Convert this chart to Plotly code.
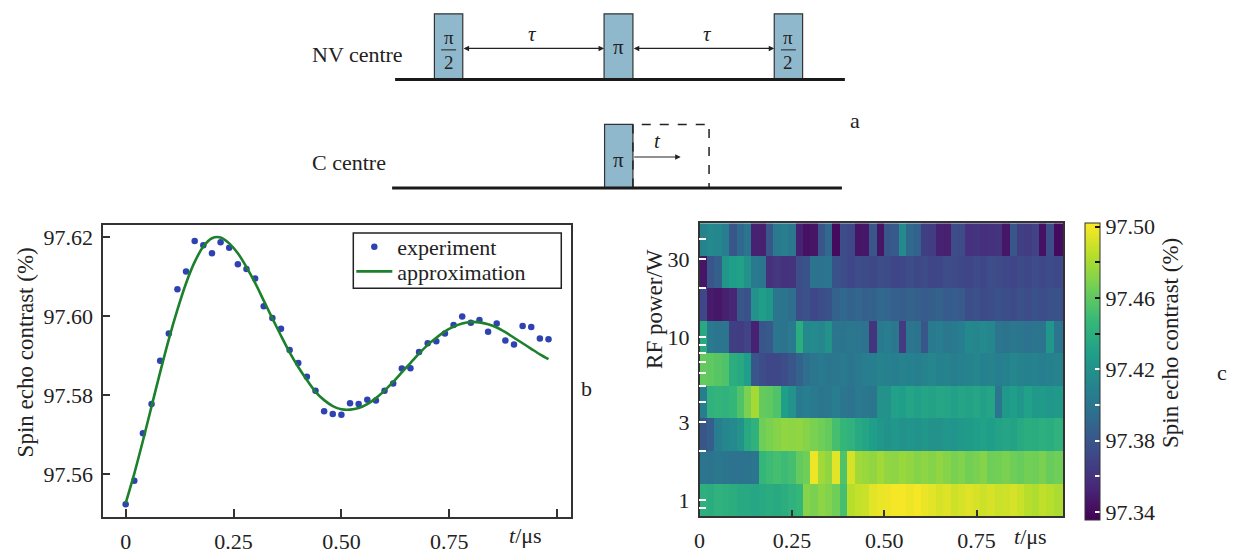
import numpy as np
import plotly.graph_objects as go

W, H = 1233, 554
SERIF = "Liberation Serif"

# ---------------- data: panel b ----------------
t_us = [0.00, 0.02, 0.04, 0.06, 0.08, 0.10, 0.12, 0.14, 0.16, 0.18,
        0.20, 0.22, 0.24, 0.26, 0.28, 0.30, 0.32, 0.34, 0.36, 0.38,
        0.40, 0.42, 0.44, 0.46, 0.48, 0.50, 0.52, 0.54, 0.56, 0.58,
        0.60, 0.62, 0.64, 0.66, 0.68, 0.70, 0.72, 0.74, 0.76, 0.78,
        0.80, 0.82, 0.84, 0.86, 0.88, 0.90, 0.92, 0.94, 0.96, 0.98]

contrast_experiment = [
    97.5524, 97.5584, 97.5704, 97.5778, 97.5888, 97.5957, 97.6069, 97.6114, 97.6191, 97.6180,
    97.6160, 97.6188, 97.6174, 97.6132, 97.6120, 97.6096, 97.6026, 97.5996, 97.5969, 97.5915,
    97.5882, 97.5847, 97.5812, 97.5760, 97.5753, 97.5751, 97.5780, 97.5778, 97.5789, 97.5787,
    97.5812, 97.5830, 97.5868, 97.5869, 97.5910, 97.5932, 97.5937, 97.5957, 97.5978, 97.6000,
    97.5984, 97.5991, 97.5961, 97.5982, 97.5939, 97.5929, 97.5976, 97.5973, 97.5944, 97.5942]

contrast_approximation = [
    97.5527, 97.5602, 97.5685, 97.5772, 97.5859, 97.5942, 97.6017, 97.6084, 97.6138, 97.6177,
    97.6198, 97.6200, 97.6185, 97.6160, 97.6125, 97.6085, 97.6040, 97.5995, 97.5951, 97.5909,
    97.5872, 97.5839, 97.5809, 97.5788, 97.5773, 97.5765, 97.5764, 97.5768, 97.5778, 97.5793,
    97.5812, 97.5834, 97.5858, 97.5882, 97.5906, 97.5928, 97.5946, 97.5962, 97.5974, 97.5982,
    97.5986, 97.5985, 97.5980, 97.5972, 97.5960, 97.5946, 97.5932, 97.5918, 97.5904, 97.5892]

b_xtick_vals = [0, 0.25, 0.5, 0.75, 1.0]
b_xtick_text = ["0", "0.25", "0.50", "0.75", ""]
b_ytick_vals = [97.56, 97.58, 97.60, 97.62]
b_ytick_text = ["97.56", "97.58", "97.60", "97.62"]

# ---------------- data: panel c ----------------
rf_power_W = [1.0, 1.58, 2.51, 3.98, 6.31, 10.0, 15.8, 25.1, 39.8]

map_1W = [97.441, 97.439, 97.442, 97.441, 97.439, 97.436, 97.436, 97.434, 97.436, 97.438,
          97.436, 97.439, 97.442, 97.446, 97.471, 97.468, 97.473, 97.470, 97.465, 97.452,
          97.484, 97.487, 97.489, 97.495, 97.497, 97.498, 97.500, 97.500, 97.498, 97.500,
          97.497, 97.495, 97.492, 97.494, 97.490, 97.492, 97.494, 97.492, 97.490, 97.492,
          97.489, 97.490, 97.492, 97.489, 97.484, 97.482, 97.486, 97.484, 97.481, 97.482]
map_1_58W = [97.401, 97.399, 97.402, 97.401, 97.398, 97.398, 97.399, 97.401, 97.446, 97.449,
             97.452, 97.449, 97.452, 97.462, 97.465, 97.498, 97.478, 97.474, 97.495, 97.455,
             97.492, 97.478, 97.476, 97.474, 97.478, 97.474, 97.473, 97.476, 97.474, 97.471,
             97.473, 97.471, 97.474, 97.471, 97.468, 97.470, 97.466, 97.468, 97.471, 97.465,
             97.466, 97.468, 97.465, 97.463, 97.466, 97.465, 97.468, 97.463, 97.465, 97.466]
map_2_51W = [97.380, 97.385, 97.407, 97.412, 97.415, 97.420, 97.436, 97.442, 97.465, 97.468,
             97.471, 97.474, 97.473, 97.474, 97.471, 97.468, 97.465, 97.462, 97.452, 97.446,
             97.442, 97.436, 97.433, 97.428, 97.423, 97.420, 97.423, 97.420, 97.422, 97.420,
             97.423, 97.420, 97.420, 97.423, 97.422, 97.425, 97.426, 97.428, 97.430, 97.428,
             97.431, 97.433, 97.431, 97.436, 97.439, 97.438, 97.441, 97.439, 97.442, 97.441]
map_3_98W = [97.407, 97.442, 97.444, 97.442, 97.446, 97.455, 97.468, 97.479, 97.462, 97.460,
             97.455, 97.428, 97.420, 97.404, 97.407, 97.404, 97.401, 97.402, 97.406, 97.401,
             97.398, 97.404, 97.402, 97.401, 97.420, 97.420, 97.430, 97.428, 97.433, 97.430,
             97.433, 97.431, 97.434, 97.433, 97.430, 97.433, 97.431, 97.434, 97.430, 97.433,
             97.401, 97.425, 97.428, 97.423, 97.430, 97.425, 97.426, 97.423, 97.425, 97.426]
map_6_31W = [97.462, 97.460, 97.458, 97.455, 97.439, 97.436, 97.428, 97.380, 97.375, 97.372,
             97.372, 97.375, 97.380, 97.388, 97.396, 97.401, 97.404, 97.401, 97.402, 97.404,
             97.401, 97.404, 97.406, 97.407, 97.410, 97.409, 97.407, 97.410, 97.409, 97.407,
             97.410, 97.412, 97.409, 97.410, 97.407, 97.409, 97.410, 97.412, 97.409, 97.410,
             97.407, 97.409, 97.412, 97.410, 97.409, 97.410, 97.407, 97.409, 97.410, 97.409]
map_10W = [97.436, 97.404, 97.401, 97.401, 97.367, 97.366, 97.369, 97.351, 97.380, 97.382,
           97.401, 97.399, 97.404, 97.439, 97.414, 97.415, 97.412, 97.420, 97.401, 97.399,
           97.402, 97.401, 97.398, 97.361, 97.404, 97.406, 97.402, 97.364, 97.401, 97.399,
           97.380, 97.404, 97.406, 97.402, 97.404, 97.407, 97.414, 97.412, 97.415, 97.412,
           97.401, 97.399, 97.402, 97.401, 97.398, 97.401, 97.399, 97.423, 97.401, 97.399]
map_15_8W = [97.372, 97.348, 97.346, 97.350, 97.353, 97.380, 97.378, 97.420, 97.428, 97.423,
             97.401, 97.399, 97.396, 97.375, 97.377, 97.372, 97.375, 97.378, 97.388, 97.391,
             97.388, 97.390, 97.386, 97.388, 97.391, 97.390, 97.386, 97.385, 97.388, 97.386,
             97.383, 97.385, 97.388, 97.383, 97.385, 97.382, 97.375, 97.377, 97.374, 97.375,
             97.378, 97.375, 97.374, 97.377, 97.375, 97.378, 97.375, 97.377, 97.378, 97.375]
map_25_1W = [97.345, 97.380, 97.385, 97.423, 97.428, 97.430, 97.420, 97.404, 97.401, 97.359,
             97.362, 97.359, 97.361, 97.375, 97.378, 97.399, 97.398, 97.401, 97.378, 97.375,
             97.372, 97.375, 97.374, 97.372, 97.375, 97.374, 97.370, 97.372, 97.375, 97.372,
             97.374, 97.370, 97.372, 97.375, 97.374, 97.372, 97.370, 97.374, 97.372, 97.375,
             97.374, 97.372, 97.370, 97.374, 97.372, 97.375, 97.372, 97.374, 97.372, 97.374]
map_39_8W = [97.410, 97.414, 97.412, 97.407, 97.380, 97.391, 97.401, 97.351, 97.350, 97.380,
             97.404, 97.406, 97.402, 97.351, 97.343, 97.345, 97.380, 97.391, 97.340, 97.375,
             97.372, 97.345, 97.346, 97.380, 97.345, 97.380, 97.382, 97.415, 97.391, 97.388,
             97.367, 97.366, 97.351, 97.350, 97.375, 97.374, 97.359, 97.361, 97.358, 97.359,
             97.361, 97.346, 97.380, 97.367, 97.366, 97.369, 97.343, 97.375, 97.340, 97.342]

c_ytick_power = [0.9, 1, 2, 3, 4, 5, 6, 7, 8, 9, 10, 20, 30, 40]
c_ytick_text = ["", "1", "", "3", "", "", "", "", "", "", "10", "", "30", ""]
c_xtick_vals = [0, 0.25, 0.5, 0.75]
c_xtick_text = ["0", "0.25", "0.50", "0.75"]
cbar_tick_vals = [97.34, 97.36, 97.38, 97.40, 97.42, 97.44, 97.46, 97.48, 97.50]
cbar_tick_text = ["97.34", "", "97.38", "", "97.42", "", "97.46", "", "97.50"]
cbar_dark_ticks = [97.44, 97.46, 97.48, 97.50]
z_min, z_max = 97.3355, 97.502

z_map = [map_1W, map_1_58W, map_2_51W, map_3_98W, map_6_31W,
         map_10W, map_15_8W, map_25_1W, map_39_8W]
log_power = np.log10(rf_power_W)
t_edges = list(t_us) + [t_us[-1] + (t_us[1] - t_us[0])]

TICK_SIZE = 22
TITLE_SIZE = 23


def px(x):
    return x / W


def py(y):
    return 1 - y / H


fig = go.Figure()

# ---------------- panel b ----------------
fig.add_trace(go.Scatter(
    x=t_us, y=contrast_experiment, mode="markers", name="experiment",
    marker=dict(color="rgb(46,66,178)", size=6.5),
    xaxis="x", yaxis="y", legend="legend"))
fig.add_trace(go.Scatter(
    x=t_us, y=contrast_approximation, mode="lines", name="approximation",
    line=dict(color="rgb(28,128,44)", width=2.6, shape="spline", smoothing=0.8),
    xaxis="x", yaxis="y", legend="legend2"))

# ---------------- panel c ----------------
fig.add_trace(go.Heatmap(
    x=t_edges, y=log_power, z=z_map, colorscale="Viridis",
    zmin=z_min, zmax=z_max, xaxis="x2", yaxis="y2", showlegend=False,
    colorbar=dict(
        x=px(1084), xanchor="left", xpad=0, y=py(226), yanchor="top", ypad=0,
        len=297, lenmode="pixels", thickness=15, thicknessmode="pixels",
        outlinewidth=1, outlinecolor="#333",
        ticks="inside", ticklen=5, tickwidth=1.5, tickcolor="white",
        tickmode="array", tickvals=cbar_tick_vals, ticktext=cbar_tick_text,
        tickfont=dict(family=SERIF, size=TICK_SIZE, color="#222"))))
fig.add_trace(go.Heatmap(
    x=t_edges, y=log_power, z=z_map,
    colorscale=[[0, "rgba(0,0,0,0)"], [1, "rgba(0,0,0,0)"]],
    zmin=z_min, zmax=z_max, xaxis="x2", yaxis="y2", showlegend=False,
    hoverinfo="skip",
    colorbar=dict(
        x=px(1084), xanchor="left", xpad=0, y=py(226), yanchor="top", ypad=0,
        len=297, lenmode="pixels", thickness=15, thicknessmode="pixels",
        outlinewidth=0, bgcolor="rgba(0,0,0,0)",
        ticks="inside", ticklen=5, tickwidth=1.5, tickcolor="#111",
        tickmode="array", tickvals=cbar_dark_ticks,
        ticktext=["" for _ in cbar_dark_ticks],
        tickfont=dict(family=SERIF, size=TICK_SIZE, color="rgba(0,0,0,0)"))))

axis_font = dict(family=SERIF, size=TICK_SIZE, color="#222")
legend_common = dict(xanchor="left", yanchor="middle", borderwidth=0,
                     bgcolor="rgba(0,0,0,0)", itemwidth=36,
                     font=dict(family=SERIF, size=TICK_SIZE, color="#222"))

fig.update_layout(
    width=W, height=H, autosize=False,
    margin=dict(l=0, r=0, t=0, b=0),
    paper_bgcolor="white", plot_bgcolor="rgba(0,0,0,0)",
    font=dict(family=SERIF, size=TICK_SIZE, color="#222"),
    showlegend=True,
    legend=dict(x=px(347), y=py(250), **legend_common),
    legend2=dict(x=px(347), y=py(275), **legend_common),
    xaxis=dict(domain=[px(97.7), px(567.7)], range=[-0.052, 1.032],
               tickmode="array", tickvals=b_xtick_vals, ticktext=b_xtick_text,
               ticks="inside", ticklen=9, tickwidth=1.5, tickcolor="#333",
               showline=True, mirror=True, linecolor="#333", linewidth=1.5,
               showgrid=False, zeroline=False, tickfont=axis_font,
               ticklabelstandoff=3, anchor="y"),
    yaxis=dict(domain=[py(524), py(227.7)], range=[97.5491, 97.6232],
               tickmode="array", tickvals=b_ytick_vals, ticktext=b_ytick_text,
               ticks="inside", ticklen=7, tickwidth=1.5, tickcolor="#333",
               showline=True, mirror=True, linecolor="#333", linewidth=1.5,
               showgrid=False, zeroline=False, tickfont=axis_font,
               ticklabelstandoff=4, anchor="x"),
    xaxis2=dict(domain=[px(697), px(1062.5)], range=[0, 0.985],
                tickmode="array", tickvals=c_xtick_vals, ticktext=c_xtick_text,
                ticks="inside", ticklen=7, tickwidth=1.5, tickcolor="#333",
                showline=True, mirror=True, linecolor="#333", linewidth=1.5,
                showgrid=False, zeroline=False, tickfont=axis_font,
                ticklabelstandoff=3, anchor="y2"),
    yaxis2=dict(domain=[py(523), py(226)], range=[-0.1, 1.7],
                tickmode="array", tickvals=list(np.log10(c_ytick_power)),
                ticktext=c_ytick_text,
                ticks="inside", ticklen=7, tickwidth=1.5, tickcolor="white",
                showline=True, mirror=True, linecolor="#333", linewidth=1.5,
                showgrid=False, zeroline=False, tickfont=axis_font,
                ticklabelstandoff=4, anchor="x2"),
)

# ---------------- panel a: pulse scheme ----------------
pulse_fill = "rgb(143,184,204)"
pulse_line = dict(color="#333", width=1.2)
shapes = []
for x0, x1, y0, y1 in [(430.5, 459, 14, 80), (601, 630, 14, 80),
                       (772, 800.5, 14, 80), (601.5, 630, 126, 190)]:
    shapes.append(dict(type="rect", xref="paper", yref="paper",
                       x0=px(x0), x1=px(x1), y0=py(y1), y1=py(y0),
                       fillcolor=pulse_fill, line=pulse_line, layer="above"))
shapes.append(dict(type="path", xref="paper", yref="paper",
                   path=f"M {px(630)} {py(190)} L {px(630)} {py(126)} L {px(706.5)} {py(126)} "
                        f"L {px(706.5)} {py(190)}",
                   line=dict(color="#222", width=1.5, dash="dash"), layer="above"))
for x0, x1, y in [(391, 843, 80.5), (388, 840, 190.5)]:
    shapes.append(dict(type="line", xref="paper", yref="paper",
                       x0=px(x0), x1=px(x1), y0=py(y), y1=py(y),
                       line=dict(color="#1a1a1a", width=3), layer="above"))
for xc in [444.75, 786.25]:
    shapes.append(dict(type="line", xref="paper", yref="paper",
                       x0=px(xc - 7.5), x1=px(xc + 7.5), y0=py(50.5), y1=py(50.5),
                       line=dict(color="#222", width=1), layer="above"))
# legend frame of panel b
shapes.append(dict(type="rect", xref="paper", yref="paper",
                   x0=px(349), x1=px(558), y0=py(292), y1=py(236),
                   line=dict(color="#222", width=1.5), fillcolor="rgba(0,0,0,0)",
                   layer="above"))
fig.update_layout(shapes=shapes)

ann = []


def text(x, y, s, size=TITLE_SIZE, xanchor="center", angle=0, yanchor="middle"):
    ann.append(dict(x=px(x), y=py(y), xref="paper", yref="paper", text=s,
                    showarrow=False, xanchor=xanchor, yanchor=yanchor,
                    textangle=angle, borderpad=0,
                    font=dict(family=SERIF, size=size, color="#222")))


text(306, 55, "NV centre", size=22, xanchor="left")
text(306, 165, "C centre", size=22, xanchor="left")
text(853.6, 122, "a", size=22)
text(529, 34, "<i>τ</i>", size=21)
text(705, 34, "<i>τ</i>", size=21)
text(655, 143, "<i>t</i>", size=21)
for xc in [444.75, 786.25]:
    text(xc, 50, "π", size=19, yanchor="bottom")
    text(xc, 51.5, "2", size=19, yanchor="top")
text(615.5, 48, "π", size=21)
text(615.8, 162, "π", size=21)

for xa, xb, y in [(459, 601, 49), (630, 772, 49)]:
    ann.append(dict(x=px(xb), y=py(y), xref="paper", yref="paper", text="",
                    showarrow=True, ax=xa - xb, ay=0, axref="pixel", ayref="pixel",
                    arrowhead=2, startarrowhead=2, arrowside="end+start",
                    arrowsize=1, arrowwidth=1.1, arrowcolor="#222",
                    standoff=0, startstandoff=0))
ann.append(dict(x=px(678), y=py(159), xref="paper", yref="paper", text="",
                showarrow=True, ax=630 - 678, ay=0, axref="pixel", ayref="pixel",
                arrowhead=2, arrowsize=1, arrowwidth=1.1, arrowcolor="#222",
                standoff=0))

text(583, 393, "b", size=22)
text(1222, 377, "c", size=22)
text(20, 357, "Spin echo contrast (%)", angle=-90)
text(651, 313, "RF power/W", angle=-90)
text(1170, 347, "Spin echo contrast (%)", angle=-90)
text(522, 542, "<i>t</i>/μs", size=TICK_SIZE)
text(1030, 543, "<i>t</i>/μs", size=TICK_SIZE)

fig.update_layout(annotations=ann)

fig.write_html("out.html")
